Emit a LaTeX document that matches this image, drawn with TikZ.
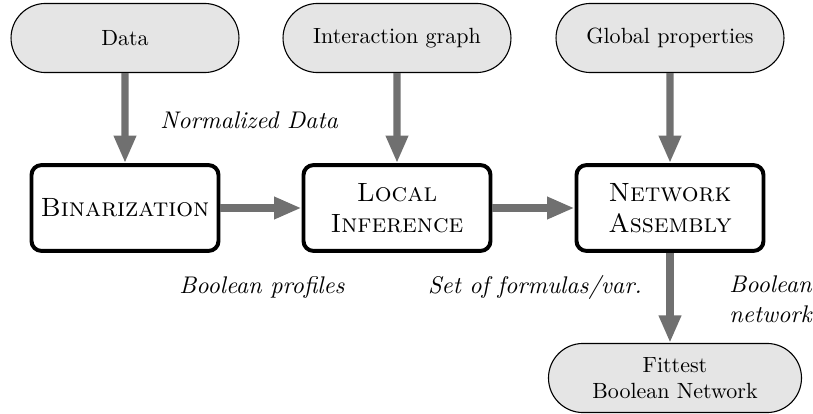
\documentclass[tikz,border=0pt]{standalone}
\usetikzlibrary{arrows.meta,shapes.misc}
\begin{document}
\begin{tikzpicture}[x=0.4545pt,y=-0.4545pt,
  iobox/.style={rounded rectangle, draw=black, line width=0.5pt, fill=black!10,
    minimum width=103.6pt, minimum height=31.4pt, inner sep=0pt, align=center},
  stepbox/.style={draw=black, line width=1.8pt, rounded corners=4.5pt, fill=white,
    minimum width=85pt, minimum height=39pt, inner sep=0pt, align=center, font=\large},
  flow/.style={draw=black!56, line width=3.2pt,
    -{Triangle[width=9.5pt,length=12.5pt]}},
  lbl/.style={font=\fontsize{10.95}{13.6}\selectfont\itshape, inner sep=0pt}]
\useasboundingbox (0,0) rectangle (813,414);
\node[iobox] (data) at (125,38) {Data};
\node[iobox] (igraph) at (397,38) {Interaction graph};
\node[iobox] (gprop) at (670,38) {Global properties};
\node[stepbox] (bin) at (125,208) {\textsc{Binarization}};
\node[stepbox] (loc) at (397,208) {\textsc{Local}\\\textsc{Inference}};
\node[stepbox] (net) at (670,208) {\textsc{Network}\\\textsc{Assembly}};
\node[iobox, minimum width=115pt] (fit) at (675,378) {Fittest\\Boolean Network};
\draw[flow] (data) -- (bin);
\draw[flow] (igraph) -- (loc);
\draw[flow] (gprop) -- (net);
\draw[flow] (bin) -- (loc);
\draw[flow] (loc) -- (net);
\draw[flow] (net.south) -- (net.south |- fit.north);
\node[lbl, anchor=west] (l1) at (160,120) {Normalized Data};
\node[lbl] (l2) at (262,287) {Boolean profiles};
\node[lbl] (l3) at (535,287) {Set of formulas/var.};
\node[lbl, anchor=west, align=left] (l4) at (729,299) {Boolean\\network};
\end{tikzpicture}
\end{document}
